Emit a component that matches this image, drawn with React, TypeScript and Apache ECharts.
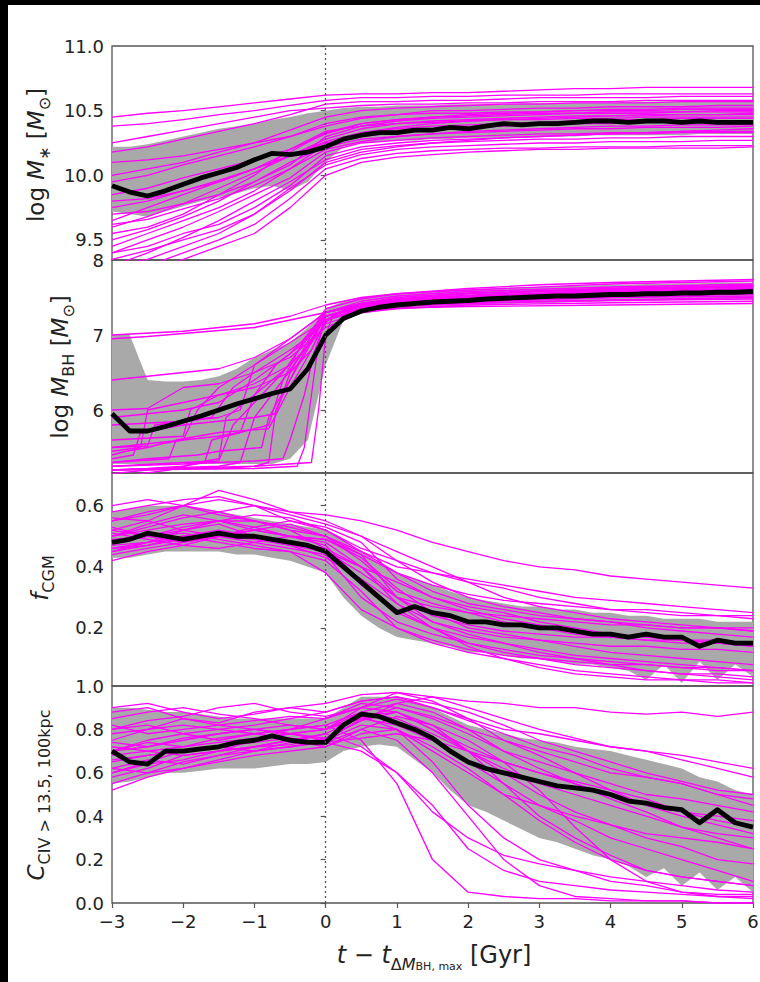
import React, { useEffect, useRef } from 'react';
import * as echarts from 'echarts';

// ---------- sample times ----------
const T_HALF = [-3, -2.5, -2, -1.5, -1, -0.5, 0, 0.5, 1, 1.5, 2, 2.5, 3, 3.5, 4, 4.5, 5, 5.5, 6];
const T_QUARTER = [-3, -2.75, -2.5, -2.25, -2, -1.75, -1.5, -1.25, -1, -0.75, -0.5, -0.25, 0, 0.25, 0.5, 0.75, 1, 1.25, 1.5, 1.75, 2, 2.25, 2.5, 2.75, 3, 3.25, 3.5, 3.75, 4, 4.25, 4.5, 4.75, 5, 5.25, 5.5, 5.75, 6];
const X_TICKS = [-3, -2, -1, 0, 1, 2, 3, 4, 5, 6];

// ---------- tick labels ----------
const MSTAR_TICKS = [9.5, 10.0, 10.5, 11.0];
const MBH_TICKS = [6, 7, 8];
const FCGM_TICKS = [0.2, 0.4, 0.6];
const CIV_TICKS = [0.0, 0.2, 0.4, 0.6, 0.8, 1.0];

// ---------- panel 1: log M* ----------
const MSTAR_MEDIAN = [9.92, 9.87, 9.84, 9.88, 9.93, 9.98, 10.02, 10.06, 10.12, 10.17, 10.16, 10.18, 10.22, 10.28, 10.31, 10.33, 10.33, 10.35, 10.35, 10.37, 10.36, 10.38, 10.40, 10.39, 10.40, 10.40, 10.41, 10.42, 10.42, 10.41, 10.42, 10.42, 10.41, 10.42, 10.41, 10.41, 10.41];
const MSTAR_LOW = [9.72, 9.70, 9.68, 9.72, 9.76, 9.80, 9.83, 9.86, 9.90, 9.92, 9.88, 9.95, 10.10, 10.22, 10.25, 10.26, 10.27, 10.27, 10.28, 10.28, 10.29, 10.29, 10.29, 10.30, 10.30, 10.30, 10.30, 10.31, 10.31, 10.31, 10.31, 10.31, 10.31, 10.32, 10.32, 10.32, 10.32];
const MSTAR_HIGH = [10.22, 10.22, 10.24, 10.27, 10.30, 10.33, 10.36, 10.38, 10.40, 10.43, 10.45, 10.48, 10.50, 10.52, 10.53, 10.53, 10.54, 10.54, 10.54, 10.55, 10.55, 10.55, 10.55, 10.56, 10.56, 10.56, 10.56, 10.56, 10.56, 10.57, 10.57, 10.57, 10.57, 10.57, 10.57, 10.57, 10.57];
const MSTAR_TRACKS = [
  [10.45, 10.48, 10.50, 10.53, 10.56, 10.59, 10.62, 10.63, 10.63, 10.64, 10.64, 10.65, 10.66, 10.67, 10.67, 10.68, 10.68, 10.68, 10.68],
  [10.38, 10.40, 10.43, 10.47, 10.50, 10.54, 10.58, 10.60, 10.60, 10.61, 10.61, 10.62, 10.62, 10.62, 10.63, 10.63, 10.63, 10.63, 10.63],
  [10.18, 10.22, 10.28, 10.34, 10.40, 10.47, 10.55, 10.57, 10.57, 10.58, 10.58, 10.59, 10.60, 10.60, 10.60, 10.60, 10.61, 10.61, 10.61],
  [10.10, 10.12, 10.15, 10.20, 10.25, 10.30, 10.38, 10.44, 10.47, 10.50, 10.50, 10.51, 10.52, 10.52, 10.53, 10.53, 10.53, 10.54, 10.54],
  [9.95, 10.00, 10.08, 10.15, 10.22, 10.30, 10.40, 10.45, 10.47, 10.48, 10.48, 10.49, 10.49, 10.50, 10.50, 10.50, 10.51, 10.51, 10.51],
  [9.75, 9.80, 9.88, 9.96, 10.05, 10.15, 10.28, 10.36, 10.40, 10.42, 10.43, 10.44, 10.45, 10.46, 10.46, 10.47, 10.47, 10.47, 10.47],
  [9.60, 9.68, 9.78, 9.90, 10.02, 10.15, 10.25, 10.30, 10.33, 10.35, 10.37, 10.38, 10.39, 10.40, 10.40, 10.41, 10.41, 10.41, 10.42],
  [9.50, 9.58, 9.68, 9.80, 9.95, 10.10, 10.22, 10.28, 10.30, 10.32, 10.33, 10.34, 10.35, 10.36, 10.36, 10.37, 10.37, 10.37, 10.38],
  [9.40, 9.50, 9.60, 9.72, 9.85, 9.98, 10.18, 10.25, 10.27, 10.29, 10.30, 10.31, 10.32, 10.32, 10.33, 10.33, 10.34, 10.34, 10.34],
  [9.30, 9.40, 9.52, 9.65, 9.80, 9.95, 10.12, 10.20, 10.23, 10.25, 10.26, 10.27, 10.28, 10.28, 10.29, 10.29, 10.30, 10.30, 10.30],
  [9.30, 9.35, 9.45, 9.55, 9.70, 9.90, 10.08, 10.16, 10.20, 10.22, 10.23, 10.24, 10.25, 10.25, 10.26, 10.26, 10.26, 10.27, 10.27],
  [9.20, 9.30, 9.40, 9.50, 9.62, 9.82, 10.05, 10.13, 10.17, 10.19, 10.20, 10.21, 10.21, 10.22, 10.22, 10.22, 10.23, 10.23, 10.23],
  [9.70, 9.72, 9.78, 9.85, 9.95, 10.08, 10.30, 10.38, 10.42, 10.44, 10.45, 10.46, 10.47, 10.48, 10.48, 10.48, 10.49, 10.49, 10.49],
  [9.85, 9.90, 9.98, 10.05, 10.12, 10.20, 10.32, 10.40, 10.43, 10.45, 10.46, 10.47, 10.48, 10.48, 10.49, 10.49, 10.49, 10.50, 10.50],
  [9.55, 9.60, 9.70, 9.85, 10.00, 10.20, 10.34, 10.38, 10.40, 10.41, 10.42, 10.43, 10.43, 10.44, 10.44, 10.45, 10.45, 10.45, 10.45],
  [9.45, 9.55, 9.65, 9.75, 9.88, 10.05, 10.20, 10.26, 10.30, 10.32, 10.34, 10.35, 10.36, 10.37, 10.38, 10.38, 10.39, 10.39, 10.39],
  [9.20, 9.25, 9.35, 9.45, 9.55, 9.75, 10.00, 10.10, 10.14, 10.16, 10.18, 10.19, 10.20, 10.20, 10.21, 10.21, 10.21, 10.21, 10.22],
  [10.25, 10.30, 10.35, 10.40, 10.45, 10.50, 10.52, 10.54, 10.55, 10.55, 10.56, 10.56, 10.57, 10.57, 10.57, 10.58, 10.58, 10.58, 10.58],
  [9.65, 9.75, 9.85, 9.95, 10.05, 10.18, 10.33, 10.40, 10.43, 10.45, 10.47, 10.48, 10.49, 10.50, 10.51, 10.51, 10.52, 10.52, 10.52],
  [10.00, 10.05, 10.10, 10.18, 10.25, 10.35, 10.45, 10.50, 10.52, 10.53, 10.54, 10.55, 10.55, 10.56, 10.56, 10.56, 10.57, 10.57, 10.57],
  [9.40, 9.45, 9.55, 9.62, 9.75, 9.92, 10.15, 10.22, 10.25, 10.27, 10.28, 10.29, 10.30, 10.31, 10.32, 10.32, 10.33, 10.33, 10.33],
  [9.80, 9.82, 9.88, 9.95, 10.05, 10.15, 10.26, 10.33, 10.36, 10.38, 10.39, 10.40, 10.41, 10.42, 10.43, 10.43, 10.44, 10.44, 10.44],
  [9.62, 9.66, 9.74, 9.82, 9.92, 10.05, 10.24, 10.33, 10.37, 10.40, 10.42, 10.43, 10.44, 10.45, 10.46, 10.46, 10.47, 10.47, 10.48],
  [9.35, 9.42, 9.50, 9.58, 9.70, 9.88, 10.10, 10.18, 10.22, 10.25, 10.27, 10.29, 10.30, 10.31, 10.32, 10.33, 10.34, 10.35, 10.36],
];

// ---------- panel 2: log M_BH ----------
const MBH_MEDIAN = [5.95, 5.72, 5.72, 5.78, 5.85, 5.92, 6.00, 6.08, 6.15, 6.22, 6.28, 6.55, 7.00, 7.22, 7.32, 7.37, 7.40, 7.42, 7.44, 7.45, 7.46, 7.48, 7.49, 7.50, 7.51, 7.52, 7.52, 7.53, 7.54, 7.54, 7.55, 7.55, 7.56, 7.56, 7.57, 7.57, 7.58];
const MBH_LOW = [5.28, 5.28, 5.28, 5.28, 5.28, 5.28, 5.28, 5.28, 5.28, 5.28, 5.35, 5.60, 6.60, 7.20, 7.28, 7.32, 7.35, 7.36, 7.37, 7.38, 7.39, 7.40, 7.41, 7.42, 7.42, 7.43, 7.44, 7.44, 7.45, 7.45, 7.46, 7.46, 7.47, 7.47, 7.47, 7.48, 7.48];
const MBH_HIGH = [7.00, 7.00, 6.40, 6.38, 6.38, 6.40, 6.45, 6.55, 6.70, 6.80, 6.90, 7.10, 7.35, 7.45, 7.50, 7.53, 7.55, 7.57, 7.58, 7.60, 7.61, 7.62, 7.63, 7.64, 7.64, 7.65, 7.66, 7.66, 7.67, 7.67, 7.68, 7.68, 7.69, 7.69, 7.70, 7.70, 7.70];
const MBH_TRACKS = [
  [[-3, 7.0], [-2, 7.05], [-1, 7.15], [-0.5, 7.25], [0, 7.4], [0.5, 7.5], [1, 7.55], [2, 7.62], [3, 7.67], [4, 7.7], [5, 7.72], [6, 7.74]],
  [[-3, 6.95], [-2.5, 6.98], [-2, 7.02], [-1, 7.1], [0, 7.3], [0.5, 7.4], [1, 7.45], [2, 7.5], [3, 7.55], [4, 7.58], [6, 7.62]],
  [[-3, 6.4], [-2.5, 6.45], [-2, 6.5], [-1.5, 6.55], [-1, 6.7], [-0.5, 6.95], [0, 7.3], [0.5, 7.42], [1, 7.48], [2, 7.55], [4, 7.62], [6, 7.66]],
  [[-3, 6.0], [-2.5, 6.02], [-2, 6.3], [-1.5, 6.35], [-1, 6.5], [-0.5, 6.8], [-0.2, 7.0], [0, 7.2], [0.5, 7.35], [1, 7.4], [2, 7.45], [4, 7.5], [6, 7.52]],
  [[-3, 5.8], [-2, 5.85], [-1.6, 5.9], [-1.3, 6.3], [-1, 6.5], [-0.5, 6.7], [0, 7.1], [0.5, 7.3], [1, 7.38], [2, 7.44], [4, 7.5], [6, 7.55]],
  [[-3, 5.5], [-2.5, 5.55], [-2, 5.6], [-1.5, 5.65], [-1.2, 5.7], [-1, 6.2], [-0.7, 6.6], [-0.3, 6.9], [0, 7.25], [0.5, 7.4], [1, 7.45], [2, 7.5], [4, 7.58], [6, 7.6]],
  [[-3, 5.3], [-2.2, 5.35], [-2.1, 5.6], [-1.5, 5.7], [-0.8, 5.75], [-0.5, 6.3], [-0.2, 6.8], [0, 7.2], [0.3, 7.35], [1, 7.42], [2, 7.48], [4, 7.55], [6, 7.58]],
  [[-3, 5.2], [-1.5, 5.25], [-1.2, 5.3], [-1, 5.9], [-0.6, 6.4], [-0.3, 6.8], [0, 7.25], [0.5, 7.38], [1, 7.43], [2, 7.5], [4, 7.56], [6, 7.6]],
  [[-3, 5.35], [-2.7, 5.4], [-2.6, 5.7], [-2, 5.8], [-1.5, 5.85], [-1, 5.9], [-0.7, 5.95], [-0.5, 6.5], [-0.2, 7.0], [0, 7.3], [0.5, 7.42], [1, 7.48], [3, 7.58], [6, 7.65]],
  [[-3, 5.25], [-2, 5.28], [-1, 5.32], [-0.6, 5.35], [-0.5, 5.6], [-0.3, 6.2], [-0.15, 6.8], [0, 7.2], [0.3, 7.35], [1, 7.45], [2, 7.5], [4, 7.55], [6, 7.58]],
  [[-3, 5.4], [-2.8, 5.45], [-2.5, 5.5], [-2.3, 5.55], [-2, 5.6], [-1.8, 6.0], [-1.5, 6.3], [-1, 6.6], [-0.5, 6.95], [0, 7.3], [0.5, 7.4], [1, 7.47], [2, 7.52], [4, 7.58], [6, 7.62]],
  [[-3, 5.2], [-1, 5.22], [-0.4, 5.25], [-0.3, 5.5], [-0.2, 6.2], [-0.1, 6.9], [0, 7.25], [0.5, 7.35], [1, 7.4], [3, 7.45], [6, 7.5]],
  [[-3, 5.5], [-2.5, 5.52], [-2.4, 5.8], [-2, 5.85], [-1.5, 5.9], [-1.2, 6.0], [-1, 6.6], [-0.5, 6.9], [0, 7.2], [0.5, 7.32], [1, 7.38], [2, 7.42], [4, 7.46], [6, 7.48]],
  [[-3, 5.1], [-2.2, 5.2], [-1.8, 5.3], [-1.5, 5.35], [-1.4, 5.9], [-1, 6.2], [-0.5, 6.6], [-0.2, 6.9], [0, 7.15], [0.5, 7.3], [1, 7.35], [2, 7.4], [4, 7.43], [6, 7.45]],
  [[-3, 5.3], [-2.5, 5.35], [-1.8, 5.4], [-1.5, 5.45], [-0.9, 5.5], [-0.8, 5.9], [-0.5, 6.4], [-0.2, 6.9], [0, 7.3], [0.5, 7.45], [1, 7.52], [2, 7.58], [4, 7.64], [6, 7.68]],
  [[-3, 5.2], [-1, 5.25], [-0.2, 5.3], [-0.1, 6.0], [0, 7.0], [0.1, 7.25], [0.5, 7.32], [1, 7.36], [2, 7.38], [4, 7.4], [6, 7.42]],
  [[-3, 5.6], [-2, 5.65], [-1.9, 6.0], [-1.5, 6.2], [-1, 6.3], [-0.5, 6.5], [-0.2, 6.8], [0, 7.2], [0.5, 7.35], [1, 7.4], [2, 7.46], [4, 7.52], [6, 7.55]],
  [[-3, 5.25], [-2, 5.3], [-1.5, 5.32], [-1.3, 5.8], [-1, 6.1], [-0.6, 6.5], [-0.3, 6.9], [0, 7.35], [0.5, 7.48], [1, 7.55], [2, 7.6], [4, 7.68], [6, 7.72]],
  [[-3, 5.2], [-2.5, 5.22], [-2, 5.25], [-1.7, 5.3], [-1.6, 5.6], [-1.2, 5.7], [-0.8, 5.8], [-0.6, 6.4], [-0.3, 6.95], [0, 7.3], [0.5, 7.42], [1, 7.5], [2, 7.56], [4, 7.62], [6, 7.66]],
  [[-3, 5.45], [-2.6, 5.5], [-2.5, 6.0], [-2, 6.1], [-1.5, 6.2], [-1, 6.35], [-0.5, 6.6], [-0.2, 6.9], [0, 7.25], [0.5, 7.38], [1, 7.44], [2, 7.5], [4, 7.56], [6, 7.6]],
  [[-3, 5.15], [-2.5, 5.2], [-2, 5.22], [-1.5, 5.22], [-1, 5.25], [-0.8, 5.3], [-0.7, 6.0], [-0.4, 6.6], [-0.1, 7.1], [0.2, 7.3], [1, 7.4], [2, 7.46], [4, 7.52], [6, 7.56]],
  [[-3, 5.9], [-2.5, 5.95], [-2, 6.0], [-1.5, 6.1], [-1, 6.4], [-0.5, 6.75], [0, 7.25], [0.5, 7.4], [1, 7.46], [2, 7.52], [4, 7.6], [6, 7.64]],
];

// ---------- panel 3: f_CGM ----------
const FCGM_MEDIAN = [0.48, 0.49, 0.51, 0.50, 0.49, 0.50, 0.51, 0.50, 0.50, 0.49, 0.48, 0.47, 0.45, 0.40, 0.35, 0.30, 0.25, 0.27, 0.25, 0.24, 0.22, 0.22, 0.21, 0.21, 0.20, 0.20, 0.19, 0.18, 0.18, 0.17, 0.18, 0.17, 0.17, 0.14, 0.16, 0.15, 0.15];
const FCGM_LOW = [0.43, 0.43, 0.44, 0.45, 0.45, 0.45, 0.45, 0.44, 0.44, 0.43, 0.42, 0.40, 0.38, 0.30, 0.24, 0.20, 0.17, 0.16, 0.15, 0.14, 0.12, 0.12, 0.11, 0.10, 0.10, 0.09, 0.08, 0.08, 0.07, 0.06, 0.03, 0.08, 0.02, 0.09, 0.03, 0.08, 0.04];
const FCGM_HIGH = [0.58, 0.59, 0.60, 0.60, 0.60, 0.59, 0.58, 0.57, 0.56, 0.55, 0.54, 0.53, 0.52, 0.49, 0.45, 0.41, 0.38, 0.36, 0.34, 0.32, 0.30, 0.29, 0.28, 0.27, 0.27, 0.26, 0.26, 0.25, 0.25, 0.24, 0.24, 0.23, 0.23, 0.23, 0.22, 0.22, 0.22];
const FCGM_TRACKS = [
  [0.52, 0.55, 0.60, 0.62, 0.60, 0.58, 0.57, 0.55, 0.52, 0.48, 0.45, 0.42, 0.40, 0.39, 0.37, 0.36, 0.35, 0.34, 0.33],
  [0.48, 0.50, 0.53, 0.55, 0.57, 0.56, 0.52, 0.45, 0.40, 0.38, 0.36, 0.34, 0.32, 0.30, 0.29, 0.28, 0.27, 0.26, 0.25],
  [0.45, 0.47, 0.50, 0.52, 0.50, 0.48, 0.45, 0.38, 0.30, 0.27, 0.25, 0.24, 0.23, 0.22, 0.21, 0.21, 0.20, 0.20, 0.19],
  [0.55, 0.58, 0.60, 0.58, 0.55, 0.52, 0.50, 0.42, 0.32, 0.28, 0.25, 0.22, 0.20, 0.18, 0.17, 0.16, 0.15, 0.15, 0.14],
  [0.42, 0.45, 0.47, 0.50, 0.52, 0.50, 0.47, 0.35, 0.25, 0.20, 0.17, 0.15, 0.13, 0.11, 0.10, 0.09, 0.08, 0.07, 0.06],
  [0.50, 0.52, 0.54, 0.55, 0.53, 0.50, 0.48, 0.40, 0.30, 0.22, 0.18, 0.15, 0.12, 0.10, 0.08, 0.06, 0.05, 0.04, 0.03],
  [0.60, 0.62, 0.60, 0.57, 0.55, 0.53, 0.50, 0.45, 0.38, 0.32, 0.28, 0.26, 0.24, 0.23, 0.22, 0.21, 0.20, 0.20, 0.19],
  [0.47, 0.48, 0.50, 0.50, 0.48, 0.46, 0.44, 0.30, 0.22, 0.18, 0.15, 0.13, 0.11, 0.10, 0.09, 0.08, 0.07, 0.07, 0.06],
  [0.53, 0.50, 0.52, 0.54, 0.50, 0.47, 0.45, 0.40, 0.35, 0.30, 0.27, 0.25, 0.22, 0.20, 0.18, 0.17, 0.16, 0.15, 0.14],
  [0.45, 0.48, 0.50, 0.48, 0.46, 0.45, 0.42, 0.32, 0.20, 0.15, 0.12, 0.10, 0.08, 0.06, 0.05, 0.04, 0.03, 0.03, 0.02],
  [0.50, 0.53, 0.56, 0.58, 0.60, 0.55, 0.52, 0.46, 0.42, 0.38, 0.35, 0.33, 0.30, 0.28, 0.26, 0.25, 0.24, 0.24, 0.23],
  [0.44, 0.46, 0.48, 0.50, 0.49, 0.47, 0.43, 0.36, 0.28, 0.22, 0.19, 0.17, 0.16, 0.15, 0.14, 0.14, 0.13, 0.13, 0.12],
  [0.56, 0.55, 0.52, 0.50, 0.53, 0.55, 0.53, 0.48, 0.36, 0.30, 0.26, 0.23, 0.21, 0.19, 0.18, 0.17, 0.16, 0.16, 0.15],
  [0.49, 0.50, 0.51, 0.49, 0.47, 0.45, 0.38, 0.26, 0.20, 0.16, 0.13, 0.11, 0.10, 0.09, 0.08, 0.08, 0.07, 0.06, 0.06],
  [0.51, 0.49, 0.47, 0.46, 0.48, 0.50, 0.49, 0.43, 0.33, 0.25, 0.20, 0.18, 0.16, 0.14, 0.12, 0.11, 0.10, 0.09, 0.08],
  [0.58, 0.60, 0.62, 0.63, 0.60, 0.57, 0.54, 0.50, 0.45, 0.40, 0.35, 0.30, 0.27, 0.25, 0.23, 0.22, 0.21, 0.20, 0.20],
  [0.46, 0.48, 0.52, 0.55, 0.55, 0.52, 0.46, 0.34, 0.26, 0.20, 0.15, 0.12, 0.10, 0.08, 0.07, 0.06, 0.05, 0.05, 0.04],
  [0.50, 0.54, 0.57, 0.55, 0.52, 0.50, 0.49, 0.44, 0.30, 0.24, 0.21, 0.19, 0.18, 0.17, 0.17, 0.16, 0.16, 0.15, 0.15],
  [0.55, 0.57, 0.60, 0.65, 0.62, 0.58, 0.55, 0.50, 0.42, 0.35, 0.30, 0.27, 0.25, 0.23, 0.22, 0.20, 0.19, 0.18, 0.17],
  [0.46, 0.47, 0.49, 0.51, 0.50, 0.48, 0.46, 0.40, 0.28, 0.20, 0.14, 0.10, 0.07, 0.05, 0.04, 0.03, 0.03, 0.02, 0.02],
  [0.52, 0.50, 0.48, 0.50, 0.52, 0.54, 0.50, 0.44, 0.38, 0.34, 0.31, 0.29, 0.28, 0.27, 0.26, 0.26, 0.25, 0.24, 0.24],
];

// ---------- panel 4: C_CIV ----------
const CIV_MEDIAN = [0.70, 0.65, 0.64, 0.70, 0.70, 0.71, 0.72, 0.74, 0.75, 0.77, 0.75, 0.74, 0.74, 0.82, 0.87, 0.86, 0.83, 0.80, 0.76, 0.70, 0.65, 0.62, 0.60, 0.58, 0.56, 0.54, 0.53, 0.52, 0.50, 0.47, 0.46, 0.44, 0.43, 0.37, 0.43, 0.37, 0.35];
const CIV_LOW = [0.55, 0.56, 0.58, 0.60, 0.60, 0.61, 0.62, 0.62, 0.62, 0.63, 0.64, 0.64, 0.65, 0.70, 0.72, 0.73, 0.72, 0.66, 0.60, 0.52, 0.45, 0.42, 0.38, 0.34, 0.30, 0.28, 0.25, 0.22, 0.20, 0.17, 0.12, 0.16, 0.08, 0.14, 0.06, 0.12, 0.05];
const CIV_HIGH = [0.90, 0.90, 0.89, 0.88, 0.88, 0.87, 0.86, 0.85, 0.85, 0.85, 0.85, 0.85, 0.85, 0.90, 0.95, 0.95, 0.95, 0.92, 0.90, 0.86, 0.82, 0.80, 0.78, 0.76, 0.75, 0.74, 0.72, 0.71, 0.70, 0.68, 0.66, 0.64, 0.62, 0.58, 0.56, 0.52, 0.50];
const CIV_TRACKS = [
  [0.75, 0.80, 0.85, 0.83, 0.88, 0.90, 0.92, 0.96, 0.97, 0.95, 0.93, 0.92, 0.90, 0.90, 0.88, 0.87, 0.88, 0.86, 0.88],
  [0.70, 0.75, 0.78, 0.80, 0.82, 0.85, 0.88, 0.93, 0.95, 0.90, 0.85, 0.80, 0.78, 0.75, 0.72, 0.70, 0.68, 0.65, 0.62],
  [0.65, 0.68, 0.70, 0.72, 0.75, 0.80, 0.85, 0.90, 0.88, 0.80, 0.72, 0.65, 0.60, 0.55, 0.50, 0.45, 0.42, 0.40, 0.38],
  [0.80, 0.82, 0.78, 0.75, 0.78, 0.80, 0.82, 0.88, 0.92, 0.88, 0.80, 0.70, 0.62, 0.55, 0.48, 0.42, 0.35, 0.30, 0.25],
  [0.60, 0.65, 0.70, 0.72, 0.70, 0.72, 0.75, 0.85, 0.82, 0.75, 0.65, 0.55, 0.45, 0.38, 0.30, 0.25, 0.20, 0.15, 0.10],
  [0.55, 0.60, 0.62, 0.65, 0.68, 0.70, 0.72, 0.80, 0.75, 0.60, 0.40, 0.20, 0.08, 0.03, 0.02, 0.01, 0.01, 0.00, 0.00],
  [0.85, 0.88, 0.90, 0.87, 0.85, 0.82, 0.80, 0.85, 0.90, 0.86, 0.80, 0.75, 0.70, 0.65, 0.60, 0.58, 0.55, 0.50, 0.48],
  [0.70, 0.72, 0.75, 0.78, 0.80, 0.78, 0.75, 0.82, 0.80, 0.70, 0.60, 0.50, 0.45, 0.40, 0.36, 0.32, 0.30, 0.28, 0.25],
  [0.58, 0.62, 0.68, 0.70, 0.72, 0.75, 0.78, 0.72, 0.60, 0.45, 0.25, 0.15, 0.10, 0.08, 0.06, 0.05, 0.04, 0.03, 0.03],
  [0.90, 0.92, 0.88, 0.85, 0.87, 0.90, 0.88, 0.93, 0.95, 0.92, 0.88, 0.82, 0.75, 0.70, 0.65, 0.60, 0.56, 0.52, 0.50],
  [0.62, 0.60, 0.65, 0.68, 0.72, 0.75, 0.72, 0.78, 0.80, 0.72, 0.62, 0.50, 0.38, 0.28, 0.20, 0.15, 0.12, 0.10, 0.08],
  [0.72, 0.70, 0.68, 0.70, 0.75, 0.78, 0.80, 0.88, 0.85, 0.78, 0.70, 0.62, 0.55, 0.50, 0.45, 0.40, 0.35, 0.32, 0.30],
  [0.78, 0.80, 0.82, 0.80, 0.78, 0.76, 0.74, 0.80, 0.86, 0.82, 0.75, 0.65, 0.52, 0.35, 0.20, 0.10, 0.05, 0.03, 0.02],
  [0.68, 0.70, 0.72, 0.74, 0.76, 0.78, 0.80, 0.90, 0.94, 0.90, 0.84, 0.78, 0.72, 0.68, 0.62, 0.58, 0.55, 0.50, 0.45],
  [0.52, 0.58, 0.62, 0.66, 0.70, 0.72, 0.74, 0.70, 0.60, 0.42, 0.30, 0.22, 0.18, 0.15, 0.12, 0.10, 0.08, 0.06, 0.05],
  [0.82, 0.78, 0.80, 0.82, 0.84, 0.86, 0.85, 0.92, 0.90, 0.85, 0.78, 0.70, 0.65, 0.60, 0.55, 0.50, 0.48, 0.45, 0.42],
  [0.66, 0.68, 0.70, 0.72, 0.74, 0.76, 0.74, 0.76, 0.78, 0.75, 0.70, 0.65, 0.60, 0.56, 0.52, 0.48, 0.42, 0.38, 0.35],
  [0.60, 0.64, 0.66, 0.70, 0.72, 0.73, 0.76, 0.84, 0.88, 0.82, 0.70, 0.55, 0.40, 0.30, 0.22, 0.15, 0.12, 0.10, 0.08],
  [0.88, 0.90, 0.85, 0.82, 0.80, 0.78, 0.76, 0.84, 0.92, 0.95, 0.90, 0.85, 0.80, 0.76, 0.72, 0.70, 0.66, 0.62, 0.58],
  [0.62, 0.66, 0.64, 0.68, 0.70, 0.74, 0.78, 0.86, 0.80, 0.65, 0.45, 0.30, 0.20, 0.15, 0.10, 0.08, 0.05, 0.04, 0.04],
  [0.74, 0.72, 0.76, 0.78, 0.80, 0.82, 0.80, 0.86, 0.88, 0.80, 0.70, 0.60, 0.50, 0.42, 0.36, 0.30, 0.26, 0.20, 0.18],
  [0.70, 0.74, 0.72, 0.76, 0.78, 0.80, 0.82, 0.75, 0.55, 0.20, 0.05, 0.03, 0.02, 0.02, 0.01, 0.01, 0.01, 0.00, 0.00],
  [0.80, 0.84, 0.86, 0.90, 0.92, 0.88, 0.86, 0.90, 0.97, 0.93, 0.85, 0.75, 0.68, 0.60, 0.52, 0.45, 0.40, 0.36, 0.32],
];

const FONT = 'DejaVu Sans';
const MAGENTA = '#ff00ff';
const BAND = '#a9a9a9';
const FRAME = '#555555';
const TEXT = '#222222';

const pairs = (ts: number[], vs: number[]) => ts.map((t, i) => [t, vs[i]]);

const PANELS = [
  { top: 46, height: 214, min: 9.345, max: 11.0, ticks: MSTAR_TICKS, dec: 1, median: MSTAR_MEDIAN, low: MSTAR_LOW, high: MSTAR_HIGH, tracks: MSTAR_TRACKS.map((v) => pairs(T_HALF, v)) },
  { top: 260, height: 213, min: 5.16, max: 8.0, ticks: MBH_TICKS, dec: 0, median: MBH_MEDIAN, low: MBH_LOW, high: MBH_HIGH, tracks: MBH_TRACKS },
  { top: 473, height: 213, min: 0.01, max: 0.707, ticks: FCGM_TICKS, dec: 1, median: FCGM_MEDIAN, low: FCGM_LOW, high: FCGM_HIGH, tracks: FCGM_TRACKS.map((v) => pairs(T_HALF, v)) },
  { top: 686, height: 217, min: 0.0, max: 1.0, ticks: CIV_TICKS, dec: 1, median: CIV_MEDIAN, low: CIV_LOW, high: CIV_HIGH, tracks: CIV_TRACKS.map((v) => pairs(T_HALF, v)) },
];

const richBase = (size: number) => ({
  n: { fontSize: size, fontFamily: FONT, fill: TEXT, lineHeight: size + 10 },
  i: { fontSize: size, fontFamily: FONT, fontStyle: 'italic', fill: TEXT, lineHeight: size + 10 },
  s: { fontSize: Math.round(size * 0.7), fontFamily: FONT, fill: TEXT, lineHeight: Math.round(size * 0.7), verticalAlign: 'bottom' },
});

export default function App() {
  const ref = useRef<HTMLDivElement>(null);
  useEffect(() => {
    if (!ref.current) return;
    const chart = echarts.init(ref.current, null, { renderer: 'svg' });

    const grid = PANELS.map((p) => ({
      left: 112, width: 641, top: p.top, height: p.height,
      show: true, borderColor: FRAME, borderWidth: 1.3, backgroundColor: 'transparent',
      containLabel: false, outerBoundsMode: 'none',
    }));

    const valueX = PANELS.map((_, i) => ({
      type: 'value', gridIndex: i, min: -3, max: 6, interval: 1,
      axisLine: { show: false }, splitLine: { show: false },
      axisTick: { show: i === 3, length: 5, lineStyle: { color: FRAME, width: 1.2 }, customValues: X_TICKS },
      axisLabel: {
        show: i === 3, fontSize: 18, color: TEXT, fontFamily: FONT, margin: 9, customValues: X_TICKS,
        formatter: (v: number) => (v < 0 ? '\u2212' + Math.abs(v) : String(v)),
      },
    }));
    // hidden evenly spaced category axes for the stacked percentile bands
    const bandX = PANELS.map((_, i) => ({
      type: 'category', gridIndex: i, show: false, boundaryGap: false,
      data: T_QUARTER.map(String),
    }));

    const yAxis = PANELS.map((p, i) => ({
      type: 'value', gridIndex: i, min: p.min, max: p.max,
      axisLine: { show: false }, splitLine: { show: false },
      axisTick: { show: true, length: 5, lineStyle: { color: FRAME, width: 1.2 }, customValues: p.ticks },
      axisLabel: {
        fontSize: 18, color: TEXT, fontFamily: FONT, margin: 8, customValues: p.ticks,
        formatter: (v: number) => v.toFixed(p.dec),
      },
    }));

    const series: any[] = [];
    PANELS.forEach((p, i) => {
      series.push({
        type: 'line', xAxisIndex: 4 + i, yAxisIndex: i, stack: 'band' + i, symbol: 'none', silent: true,
        data: p.low, lineStyle: { width: 0, opacity: 0 }, z: 1,
      });
      series.push({
        type: 'line', xAxisIndex: 4 + i, yAxisIndex: i, stack: 'band' + i, symbol: 'none', silent: true,
        data: p.high.map((h, k) => +(h - p.low[k]).toFixed(3)),
        lineStyle: { width: 0, opacity: 0 }, areaStyle: { color: BAND, opacity: 1 }, z: 1,
      });
      p.tracks.forEach((tr, k) => {
        const s: any = {
          type: 'line', xAxisIndex: i, yAxisIndex: i, symbol: 'none', silent: true, clip: true,
          data: tr, lineStyle: { color: MAGENTA, width: 1.3 }, z: 2,
        };
        if (k === 0) {
          s.markLine = {
            silent: true, symbol: 'none', label: { show: false },
            lineStyle: { color: '#555', type: [2, 3], width: 1.3 },
            data: [{ xAxis: 0 }],
          };
        }
        series.push(s);
      });
      series.push({
        type: 'line', xAxisIndex: i, yAxisIndex: i, symbol: 'none', silent: true, clip: true,
        data: pairs(T_QUARTER, p.median), lineStyle: { color: '#000', width: 4.8, join: 'round' }, z: 3,
      });
    });

    const ylab = (x: number, y: number, text: string, size: number) => ({
      type: 'text', x, y, rotation: Math.PI / 2, z: 10,
      style: { text, rich: richBase(size), align: 'center', verticalAlign: 'middle', fill: TEXT, fontSize: size, fontFamily: FONT },
    });

    const graphic = [
      { type: 'rect', shape: { x: 0, y: 0, width: 760, height: 5 }, style: { fill: '#000' }, z: 20 },
      { type: 'rect', shape: { x: 0, y: 0, width: 8, height: 982 }, style: { fill: '#000' }, z: 20 },
      ylab(36, 155, '{n|log }{i|M}{s|\u2217}{n| [}{i|M}{s|\u2299}{n|]}', 23),
      ylab(60, 367, '{n|log }{i|M}{s|BH}{n| [}{i|M}{s|\u2299}{n|]}', 23),
      ylab(40, 578, '{i|f}{s|CGM}', 23),
      ylab(36, 795, '{i|C}{s|CIV > 13.5, 100kpc}', 23),
      {
        type: 'text', x: 434, y: 955, z: 10,
        style: {
          text: '{i|t} {n|\u2212} {i|t}{s|\u0394}{si|M}{ss|BH, max}{n| [Gyr]}',
          rich: {
            ...richBase(24),
            s: { fontSize: 16, fontFamily: FONT, fill: TEXT, lineHeight: 24, verticalAlign: 'bottom' },
            si: { fontSize: 16, fontFamily: FONT, fontStyle: 'italic', fill: TEXT, lineHeight: 24, verticalAlign: 'bottom' },
            ss: { fontSize: 11, fontFamily: FONT, fill: TEXT, lineHeight: 13, verticalAlign: 'bottom' },
          },
          align: 'center', verticalAlign: 'middle', fill: TEXT, fontSize: 24, fontFamily: FONT,
        },
      },
    ];

    chart.setOption({
      animation: false,
      backgroundColor: '#ffffff',
      grid, xAxis: [...valueX, ...bandX], yAxis, series, graphic,
    });
    return () => chart.dispose();
  }, []);

  return <div ref={ref} style={{ position: 'absolute', left: 0, top: 0, width: 760, height: 982 }} />;
}
